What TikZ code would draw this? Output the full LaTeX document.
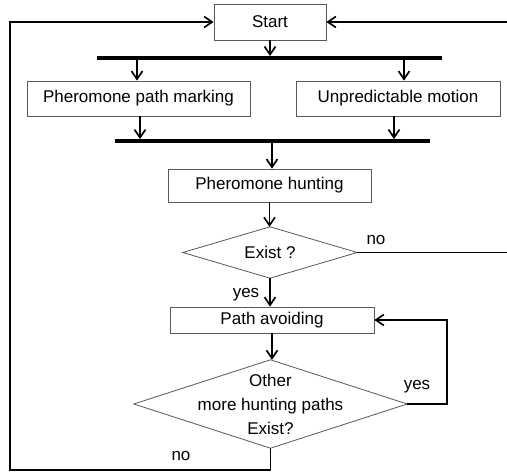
\documentclass[tikz,border=0pt]{standalone}
\usepackage{fontspec}
\setmainfont{Liberation Sans}
\usetikzlibrary{arrows.meta}
\begin{document}
\begin{tikzpicture}[x=1pt,y=-1pt,
  txt/.style={font=\fontsize{17}{24}\selectfont},
  box/.style={txt,draw=black!65,line width=0.8pt,rectangle,inner sep=0pt},
  dec/.style={txt,rectangle,inner sep=0pt,align=center},
  decline/.style={draw=black!65,line width=0.8pt},
  bar/.style={fill=black,inner sep=0pt,minimum height=3.5pt},
  conn/.style={line width=1.7pt,-{Straight Barb[length=8pt,width=11pt,line width=1.7pt]}},
  lbl/.style={txt,inner sep=0pt}]
\useasboundingbox (0,0) rectangle (507,473);
\fill[white] (0,0) rectangle (507,473);
\node[box,minimum width=112pt,minimum height=36pt] (start) at (270,22) {Start};
\node[bar,minimum width=345pt] (bar1) at (269.5,58) {};
\node[box,minimum width=223pt,minimum height=35pt] (ppm) at (138.5,98.5) {Pheromone path marking};
\node[box,minimum width=204pt,minimum height=35pt] (um) at (398,98.5) {Unpredictable motion};
\node[bar,minimum width=315pt] (bar2) at (272.5,141) {};
\node[box,minimum width=203pt,minimum height=33pt] (ph) at (269.5,185.5) {Pheromone hunting};
\node[dec,minimum width=174pt,minimum height=51pt] (d1) at (270,252.5) {Exist ?};
\draw[decline] (d1.west) -- (d1.north) -- (d1.east) -- (d1.south) -- cycle;
\node[box,minimum width=204pt,minimum height=26pt] (pa) at (272,320) {Path avoiding};
\node[dec,minimum width=273pt,minimum height=88pt] (d2) at (270.5,404) {Other\\more hunting paths\\Exist?};
\draw[decline] (d2.west) -- (d2.north) -- (d2.east) -- (d2.south) -- cycle;
\node[lbl] (no1) at (376,240) {no};
\node[lbl] (yes1) at (246,295) {yes};
\node[lbl] (yes2) at (417,387) {yes};
\node[lbl] (no2) at (181,456) {no};
\coordinate (lb) at (10,470);
\coordinate (rt) at (508,252.5);
\draw[conn] (start.south) -- (start.south |- bar1.north);
\draw[conn] ([xshift=-1.5pt]ppm.north |- bar1.south) -- ([xshift=-1.5pt]ppm.north);
\draw[conn] ([xshift=6pt]um.north |- bar1.south) -- ([xshift=6pt]um.north);
\draw[conn] ([xshift=1.5pt]ppm.south) -- ([xshift=1.5pt]ppm.south |- bar2.north);
\draw[conn] ([xshift=-4pt]um.south) -- ([xshift=-4pt]um.south |- bar2.north);
\draw[conn] ([xshift=2.5pt]ph.north |- bar2.south) -- ([xshift=2.5pt]ph.north);
\draw[conn] (ph.south) -- (ph.south |- d1.north);
\draw[conn] (d1.south) -- (d1.south |- pa.north);
\draw[conn] (pa.south) -- (pa.south |- d2.north);
\draw[conn] (d2.east) -- ++(40,0) |- (pa.east);
\draw[conn] (d2.south) |- (lb) |- (start.west);
\draw[conn] (d1.east) -- (rt) |- (start.east);
\end{tikzpicture}
\end{document}
